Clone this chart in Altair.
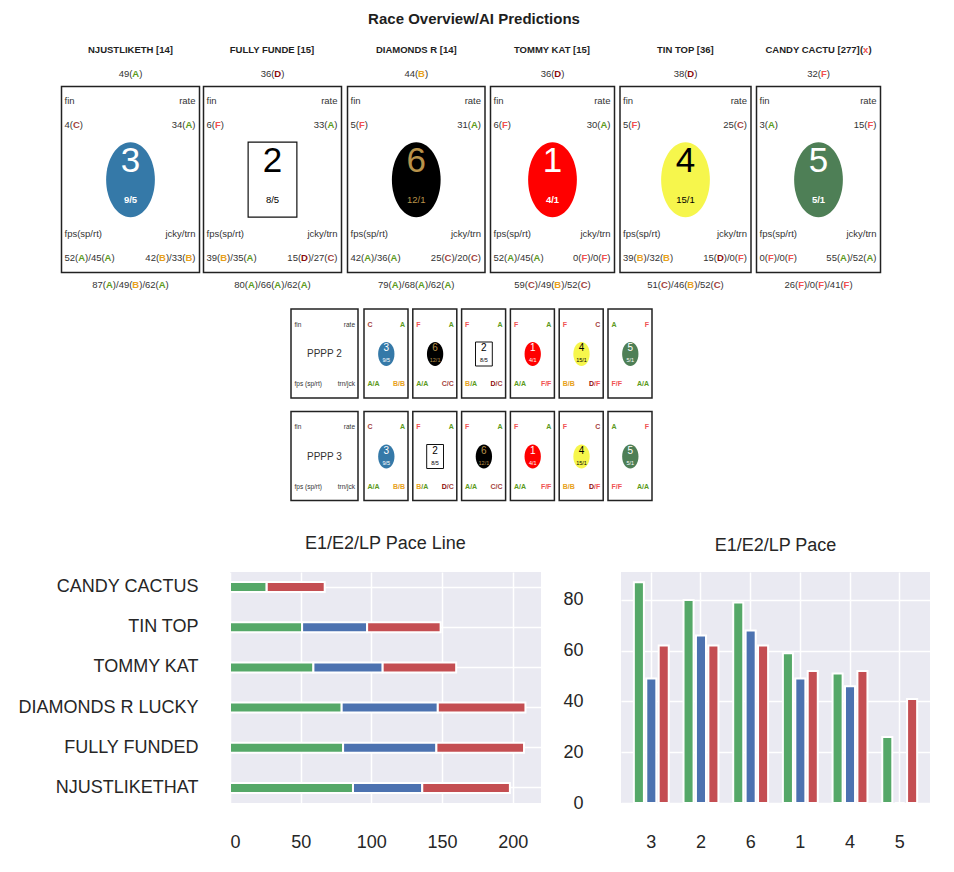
import altair as alt
import pandas as pd

# ------------------------------------------------------------------ data
card_names = ["NJUSTLIKETH [14]", "FULLY FUNDE [15]", "DIAMONDS R [14]",
              "TOMMY KAT [15]", "TIN TOP [36]", "CANDY CACTU [277]"]
card_flags = ["", "", "", "", "", "x"]
horse_names = ["NJUSTLIKETHAT", "FULLY FUNDED", "DIAMONDS R LUCKY",
               "TOMMY KAT", "TIN TOP", "CANDY CACTUS"]
program_nums = ["3", "2", "6", "1", "4", "5"]
morning_odds = ["9/5", "8/5", "12/1", "4/1", "15/1", "5/1"]

top_val = [49, 36, 44, 36, 38, 32]
top_grade = ["A", "D", "B", "D", "D", "F"]
fin_val = [4, 6, 5, 6, 5, 3]
fin_grade = ["C", "F", "F", "F", "F", "A"]
rate_val = [34, 33, 31, 30, 25, 15]
rate_grade = ["A", "A", "A", "A", "C", "F"]
sp_val = [52, 39, 42, 52, 39, 0]
sp_grade = ["A", "B", "A", "A", "B", "F"]
rt_val = [45, 35, 36, 45, 32, 0]
rt_grade = ["A", "A", "A", "A", "B", "F"]
jcky_val = [42, 15, 25, 0, 15, 55]
jcky_grade = ["B", "D", "C", "F", "D", "A"]
trn_val = [33, 27, 20, 0, 0, 52]
trn_grade = ["B", "C", "C", "F", "F", "A"]
e1_val = [87, 80, 79, 59, 51, 26]
e1_grade = ["A", "A", "A", "C", "C", "F"]
e2_val = [49, 66, 68, 49, 46, 0]
e2_grade = ["B", "A", "A", "B", "B", "F"]
lp_val = [62, 62, 62, 52, 52, 41]
lp_grade = ["A", "A", "A", "C", "C", "F"]

pppp_labels = ["PPPP 2", "PPPP 3"]
pppp_orders = [["3", "6", "2", "1", "4", "5"], ["3", "2", "6", "1", "4", "5"]]

segments = ["E1", "E2", "LP"]
main_title = "Race Overview/AI Predictions"
left_title = "E1/E2/LP Pace Line"
right_title = "E1/E2/LP Pace"

# ------------------------------------------------------------------ styles
FONT = "Liberation Sans"
BASE = "#333333"
HEAD = "#1e1e1e"
GRADE_COLORS = {"A": "#5c9a1c", "B": "#e7a11b", "C": "#a4443e",
                "D": "#8b0b0b", "F": "#f05252", "x": "#f05252"}
CLOTH_FILL = {"3": "#3579a8", "2": "#ffffff", "6": "#000000",
              "1": "#ff0000", "4": "#f6f64c", "5": "#4e7f56"}
CLOTH_TEXT = {"3": "#ffffff", "2": "#000000", "6": "#b8924a",
              "1": "#ffffff", "4": "#000000", "5": "#ffffff"}
SEG_COLORS = ["#55A868", "#4C72B0", "#C44E52"]
BG = "#EAEAF2"
INK = "#262626"

# Arial / Liberation Sans advance widths (per 1000 em)
_U = "ABCDEFGHIJKLMNOPQRSTUVWXYZ"
_L = "abcdefghijklmnopqrstuvwxyz"
REG = dict(zip(_U, [667, 667, 722, 722, 667, 611, 778, 722, 278, 500, 667, 556, 833,
                    722, 778, 667, 778, 722, 667, 611, 722, 667, 944, 667, 667, 611]))
REG.update(zip(_L, [556, 556, 500, 556, 556, 278, 556, 556, 222, 222, 500, 222, 833,
                    556, 556, 556, 556, 333, 500, 278, 556, 500, 722, 500, 500, 500]))
BOLD = dict(zip(_U, [722, 722, 722, 722, 667, 611, 778, 722, 278, 556, 722, 611, 833,
                     722, 778, 667, 778, 722, 667, 611, 722, 667, 944, 667, 667, 611]))
BOLD.update(zip(_L, [556, 611, 556, 611, 556, 333, 611, 611, 278, 278, 556, 278, 889,
                     611, 611, 611, 611, 389, 556, 333, 611, 556, 778, 556, 556, 500]))
for d in (REG, BOLD):
    for c in "0123456789":
        d[c] = 556
    d.update({" ": 278, "(": 333, ")": 333, "/": 278})
REG.update({"[": 278, "]": 278})
BOLD.update({"[": 333, "]": 333})


def tw(s, size, bold):
    tbl = BOLD if bold else REG
    return sum(tbl.get(c, 556) for c in s) * size / 1000.0


# page position of the pace-line plot origin; the overview is drawn relative to it
OX, OY = 230.0, 572.0
texts = []


def put(parts, x, y, align, size):
    widths = [tw(t, size, b) for t, c, b in parts]
    total = sum(widths)
    start = x - total / 2 if align == "center" else (x - total if align == "right" else x)
    for (t, c, b), w in zip(parts, widths):
        texts.append({"x": start - OX, "y": y - OY, "text": t, "color": c,
                      "size": size, "weight": "bold" if b else "normal"})
        start += w


def graded(v, g):
    return [(f"{v}(", BASE, False), (g, GRADE_COLORS[g], True), (")", BASE, False)]


def joined(*pieces):
    out = []
    for k, p in enumerate(pieces):
        if k:
            out.append(("/", BASE, False))
        out.extend(p)
    return out


def plain(s, color=BASE, bold=False):
    return [(s, color, bold)]


# ------------------------------------------------------------------ overview layout
CARD_X0 = [61.5, 203.5, 347.5, 490.5, 620.0, 756.5]
CARD_X1 = [199.5, 341.5, 485.0, 614.5, 751.0, 880.5]
CARD_Y0, CARD_Y1 = 86.5, 272.5
FS = 9.5

boxes = []
shapes = []


def add_box(x0, x1, y0, y1):
    boxes.append({"x": x0 - OX, "x2": x1 - OX, "y": y0 - OY, "y2": y1 - OY})


put(plain(main_title, HEAD, True), 474, 19, "center", 15)
put(plain(left_title, INK), OX + 311 / 2, 544, "center", 18)

for i in range(6):
    x0, x1 = CARD_X0[i], CARD_X1[i]
    cx = (x0 + x1) / 2
    head = [(card_names[i], HEAD, True)]
    if card_flags[i]:
        head += [("(", HEAD, True), (card_flags[i], GRADE_COLORS[card_flags[i]], True), (")", HEAD, True)]
    put(head, cx, 49.5, "center", FS)
    put(graded(top_val[i], top_grade[i]), cx, 74, "center", FS)
    add_box(x0, x1, CARD_Y0, CARD_Y1)
    put(plain("fin"), x0 + 3, 101, "left", FS)
    put(plain("rate"), x1 - 4, 101, "right", FS)
    put(graded(fin_val[i], fin_grade[i]), x0 + 3, 125, "left", FS)
    put(graded(rate_val[i], rate_grade[i]), x1 - 4, 125, "right", FS)
    p = program_nums[i]
    kind = "rect_big" if p == "2" else "ell_big"
    shapes.append({"x": cx - OX, "y": 179.7 - OY, "fill": CLOTH_FILL[p], "size": 75 * 75, "kind": kind})
    put(plain(p, CLOTH_TEXT[p]), cx, 161, "center", 35)
    put(plain(morning_odds[i], CLOTH_TEXT[p], CLOTH_TEXT[p] == "#ffffff"), cx, 199.5, "center", FS)
    put(plain("fps(sp/rt)"), x0 + 3, 234, "left", FS)
    put(plain("jcky/trn"), x1 - 4, 234, "right", FS)
    put(joined(graded(sp_val[i], sp_grade[i]), graded(rt_val[i], rt_grade[i])), x0 + 3, 257.5, "left", FS)
    put(joined(graded(jcky_val[i], jcky_grade[i]), graded(trn_val[i], trn_grade[i])), x1 - 4, 257.5, "right", FS)
    put(joined(graded(e1_val[i], e1_grade[i]), graded(e2_val[i], e2_grade[i]),
               graded(lp_val[i], lp_grade[i])), cx, 284.5, "center", FS)

ROW_Y0 = [309.0, 411.5]
ROW_H = 89.0
PP_X0, PP_X1 = 291.0, 358.0
SM_X0 = [364.0 + k * 48.8 for k in range(6)]
SM_W = 44.0
SFS = 7.0


def pair(g1, g2):
    c1, c2 = GRADE_COLORS[g1], GRADE_COLORS[g2]
    return [(g1, c1, True), ("/", c2, True), (g2, c2, True)]


for r in range(2):
    y0 = ROW_Y0[r]
    add_box(PP_X0, PP_X1, y0, y0 + ROW_H)
    put(plain("fin"), PP_X0 + 3.5, y0 + 15.7, "left", 6.5)
    put(plain("rate"), PP_X1 - 3, y0 + 15.7, "right", 6.5)
    put(plain(pppp_labels[r]), (PP_X0 + PP_X1) / 2, y0 + 45, "center", 10)
    put(plain("fps (sp/rt)"), PP_X0 + 3.5, y0 + 75, "left", 6.5)
    put(plain("trn/jck"), PP_X1 - 3, y0 + 75, "right", 6.5)
    for k, p in enumerate(pppp_orders[r]):
        i = program_nums.index(p)
        x0 = SM_X0[k]
        x1 = x0 + SM_W
        cx = x0 + 22.3
        add_box(x0, x1, y0, y0 + ROW_H)
        put([(fin_grade[i], GRADE_COLORS[fin_grade[i]], True)], x0 + 3.5, y0 + 15.7, "left", SFS)
        put([(rate_grade[i], GRADE_COLORS[rate_grade[i]], True)], x1 - 3, y0 + 15.7, "right", SFS)
        kind = "rect_small" if p == "2" else "ell_small"
        shapes.append({"x": cx - OX, "y": y0 + 45 - OY, "fill": CLOTH_FILL[p], "size": 24 * 24, "kind": kind})
        put(plain(p, CLOTH_TEXT[p]), cx, y0 + 39.3, "center", 10)
        put(plain(morning_odds[i], CLOTH_TEXT[p]), cx, y0 + 51, "center", 5.5)
        put(pair(sp_grade[i], rt_grade[i]), x0 + 3.5, y0 + 75, "left", SFS)
        put(pair(jcky_grade[i], trn_grade[i]), x1 - 3, y0 + 75, "right", SFS)

tdf = pd.DataFrame(texts)
bdf = pd.DataFrame(boxes)
sdf = pd.DataFrame(shapes)
pin = pd.DataFrame({"x": [8 - OX], "x2": [9 - OX], "y": [8 - OY], "y2": [9 - OY]})


def ellipse_path(r):
    k = 0.5523
    return (f"M0,-1 C{k*r:.4f},-1 {r:.4f},{-k:.4f} {r:.4f},0 C{r:.4f},{k:.4f} {k*r:.4f},1 0,1 "
            f"C{-k*r:.4f},1 {-r:.4f},{k:.4f} {-r:.4f},0 C{-r:.4f},{-k:.4f} {-k*r:.4f},-1 0,-1 Z")


def rect_path(r):
    return f"M{-r},-1 L{r},-1 L{r},1 L{-r},1 Z"


PX = alt.X("x:Q", scale=None, axis=None)
PY = alt.Y("y:Q", scale=None, axis=None)

pin_layer = alt.Chart(pin).mark_rect(opacity=0).encode(x=PX, x2="x2:Q", y=PY, y2="y2:Q")
box_layer = alt.Chart(bdf).mark_rect(fill="white", fillOpacity=0, stroke="#222222", strokeWidth=1.5).encode(
    x=PX, x2="x2:Q", y=PY, y2="y2:Q")

shape_layers = []
for kind, path, sw in [("ell_big", ellipse_path(0.65), 0), ("rect_big", rect_path(0.65), 1.2),
                       ("ell_small", ellipse_path(0.68), 0), ("rect_small", rect_path(0.7), 1.0)]:
    shape_layers.append(
        alt.Chart(sdf).transform_filter(alt.datum.kind == kind)
        .mark_point(shape=path, filled=True, opacity=1, stroke="#111111", strokeWidth=sw, strokeOpacity=1 if sw else 0)
        .encode(x=PX, y=PY, fill=alt.Fill("fill:N", scale=None, legend=None),
                size=alt.Size("size:Q", scale=None, legend=None))
    )

text_layers = []
for wgt in ["normal", "bold"]:
    text_layers.append(
        alt.Chart(tdf).transform_filter(alt.datum.weight == wgt)
        .mark_text(align="left", baseline="middle", font=FONT, fontWeight=wgt)
        .encode(x=PX, y=PY, text="text:N", color=alt.Color("color:N", scale=None, legend=None),
                size=alt.Size("size:Q", scale=None, legend=None))
    )

# ------------------------------------------------------------------ pace charts
pace_rows = []
for i, n in enumerate(horse_names):
    for j, (seg, v) in enumerate(zip(segments, [e1_val[i], e2_val[i], lp_val[i]])):
        pace_rows.append({"name": n, "prog": program_nums[i], "seg": seg, "idx": j, "value": v})
pace = pd.DataFrame(pace_rows)

seg_scale = alt.Scale(domain=segments, range=SEG_COLORS)
bg = alt.ViewBackground(fill=BG, strokeWidth=0)

pace_line = alt.Chart(pace).mark_bar(stroke="white", strokeWidth=2).encode(
    x=alt.X("value:Q", stack="zero", scale=alt.Scale(domain=[0, 220], nice=False),
            axis=alt.Axis(values=[0, 50, 100, 150, 200], title=None, labelPadding=30)),
    y=alt.Y("name:N", sort=list(reversed(horse_names)),
            scale=alt.Scale(paddingInner=0.75, paddingOuter=0.25),
            axis=alt.Axis(title=None, bandPosition=0.5, labelPadding=32, labelLimit=400,
                          minExtent=222, maxExtent=240)),
    color=alt.Color("seg:N", scale=seg_scale, legend=None),
    order=alt.Order("idx:Q"),
)

left = alt.layer(pace_line, pin_layer, box_layer, *shape_layers, *text_layers).resolve_scale(
    x="independent", y="independent", color="independent", size="independent", fill="independent"
).properties(width=311, height=231, view=bg)

right = alt.Chart(pace).mark_bar(stroke="white", strokeWidth=2).encode(
    x=alt.X("prog:N", sort=program_nums, scale=alt.Scale(paddingInner=0.25, paddingOuter=0.235),
            axis=alt.Axis(title=None, labelAngle=0, bandPosition=0.5, labelPadding=30)),
    xOffset=alt.XOffset("seg:N", sort=segments, scale=alt.Scale(paddingInner=0.19, paddingOuter=0.095)),
    y=alt.Y("value:Q", scale=alt.Scale(domain=[0, 91], nice=False),
            axis=alt.Axis(values=[0, 20, 40, 60, 80], title=None, labelPadding=38, minExtent=60, maxExtent=80)),
    color=alt.Color("seg:N", scale=seg_scale, legend=None),
).properties(width=309, height=231, view=bg,
             title=alt.TitleParams(right_title, fontSize=18, fontWeight="normal", color=INK, font=FONT,
                                   offset=17, anchor="middle", frame="group"))

chart = alt.hconcat(left, right, spacing=80, bounds="flush").properties(
    padding={"left": 0, "top": 0, "right": 0, "bottom": 0}
).configure_view(strokeWidth=0).configure_axis(
    labelFont=FONT, labelFontSize=18, labelColor=INK, domain=False, ticks=False, tickSize=0,
    grid=True, gridColor="white", gridWidth=1.5, gridOpacity=1,
).configure_title(font=FONT)

chart.save("out.html", embed_options={"renderer": "svg", "actions": False})
